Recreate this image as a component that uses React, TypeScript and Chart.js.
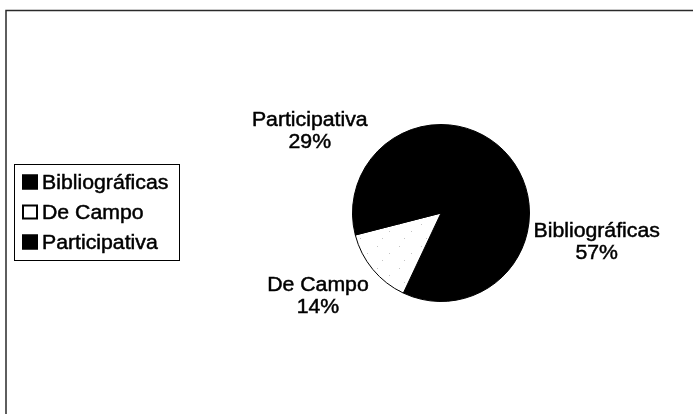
import React, { useEffect, useRef } from 'react';
import { Chart, registerables } from 'chart.js';

Chart.register(...registerables);

// ---- data ----
const categories: string[] = ['Bibliográficas', 'De Campo', 'Participativa'];
const shares: number[] = [57, 14, 29];
const percentLabels: string[] = ['57%', '14%', '29%'];

// ---- style ----
const FONT = '19.5px "Liberation Sans", Arial, sans-serif';
const SX = 1.09; // horizontal stretch of the scanned text
const LINE_H = 22.5;
const CAP_H = 14;

function makeSpeckle(): CanvasPattern | string {
  const c = document.createElement('canvas');
  c.width = 22;
  c.height = 22;
  const g = c.getContext('2d');
  if (!g) return '#ffffff';
  g.fillStyle = '#ffffff';
  g.fillRect(0, 0, 22, 22);
  g.fillStyle = '#c4c4c4';
  const dots = [
    [3, 4], [15, 11], [8, 18],
  ];
  dots.forEach(([x, y]) => g.fillRect(x, y, 1, 1));
  const p = g.createPattern(c, 'repeat');
  return p || '#ffffff';
}

function drawStretched(ctx: CanvasRenderingContext2D, text: string, x: number, y: number, align: CanvasTextAlign) {
  ctx.save();
  ctx.translate(x, y);
  ctx.scale(SX, 1);
  ctx.textAlign = align;
  ctx.textBaseline = 'alphabetic';
  ctx.lineWidth = 0.45;
  ctx.strokeStyle = '#000000';
  ctx.strokeText(text, 0, 0);
  ctx.fillText(text, 0, 0);
  ctx.restore();
}

const framePlugin = {
  id: 'frame',
  beforeDraw(chart: any) {
    const ctx: CanvasRenderingContext2D = chart.ctx;
    ctx.save();
    ctx.fillStyle = '#ffffff';
    ctx.fillRect(0, 0, chart.width, chart.height);
    ctx.strokeStyle = '#2a2a2a';
    ctx.lineWidth = 1.5;
    ctx.beginPath();
    ctx.moveTo(6, chart.height);
    ctx.lineTo(6, 10.5);
    ctx.lineTo(chart.width, 10.5);
    ctx.stroke();
    ctx.restore();
  },
};

const outerLabelPlugin = {
  id: 'outerLabels',
  afterDatasetsDraw(chart: any) {
    const ctx: CanvasRenderingContext2D = chart.ctx;
    const meta = chart.getDatasetMeta(0);
    ctx.save();
    ctx.font = FONT;
    ctx.fillStyle = '#000000';
    meta.data.forEach((arc: any, i: number) => {
      const p = arc.getProps(['x', 'y', 'startAngle', 'endAngle', 'outerRadius'], true);
      const mid = (p.startAngle + p.endAngle) / 2;
      const cos = Math.cos(mid);
      const sin = Math.sin(mid);
      const k = p.outerRadius + 18;
      const ax = p.x + cos * k;
      const ay = p.y + sin * k;
      const lines = [categories[i], percentLabels[i]];
      const w = Math.max(...lines.map((t) => ctx.measureText(t).width)) * SX;
      const h = LINE_H * 2;
      const cx = ax + cos * (w / 2) * 0.92 - 5;
      const cy = ay + sin * (h / 2) - (sin < -0.3 ? 4 : 0);
      lines.forEach((t, j) => {
        const lineCenter = cy - LINE_H / 2 + j * LINE_H;
        drawStretched(ctx, t, cx, lineCenter + CAP_H / 2, 'center');
      });
    });
    ctx.restore();
  },
};

const boxLegendPlugin = {
  id: 'boxLegend',
  afterDraw(chart: any) {
    const ctx: CanvasRenderingContext2D = chart.ctx;
    const labels: string[] = chart.data.labels;
    const ds = chart.data.datasets[0];
    const left = 14.5;
    const top = 164.5;
    const width = 165;
    const firstCenter = 182;
    const step = 30;
    const height = (labels.length - 1) * step + 36;
    ctx.save();
    ctx.strokeStyle = '#000000';
    ctx.lineWidth = 1;
    ctx.strokeRect(left, top, width, height);
    ctx.font = FONT;
    labels.forEach((lab, i) => {
      const cy = firstCenter + i * step;
      const bg = ds.backgroundColor[i];
      ctx.fillStyle = typeof bg === 'string' ? bg : '#ffffff';
      ctx.fillRect(22, cy - 7.5, 16, 15);
      ctx.strokeStyle = '#000000';
      ctx.lineWidth = 2;
      ctx.strokeRect(23, cy - 6.5, 14, 13);
      ctx.fillStyle = '#000000';
      drawStretched(ctx, lab, 42, cy + CAP_H / 2, 'left');
    });
    ctx.restore();
  },
};

export default function App() {
  const ref = useRef<HTMLCanvasElement | null>(null);

  useEffect(() => {
    if (!ref.current) return;
    const speckle = makeSpeckle();
    const chart = new Chart(ref.current, {
      type: 'pie',
      data: {
        labels: categories,
        datasets: [
          {
            data: shares,
            backgroundColor: ['#000000', speckle as any, '#000000'],
            borderColor: '#000000',
            borderWidth: 1,
          },
        ],
      },
      options: {
        responsive: false,
        maintainAspectRatio: false,
        animation: false,
        devicePixelRatio: 1,
        layout: { padding: { left: 352, right: 163, top: 124, bottom: 112 } },
        plugins: {
          legend: { display: false },
          tooltip: { enabled: false },
        },
      },
      plugins: [framePlugin, outerLabelPlugin, boxLegendPlugin],
    });
    return () => chart.destroy();
  }, []);

  return (
    <div style={{ position: 'fixed', left: 0, top: 0, width: 693, height: 414, background: '#fff' }}>
      <canvas ref={ref} width={693} height={414} style={{ display: 'block', width: 693, height: 414 }} />
    </div>
  );
}
